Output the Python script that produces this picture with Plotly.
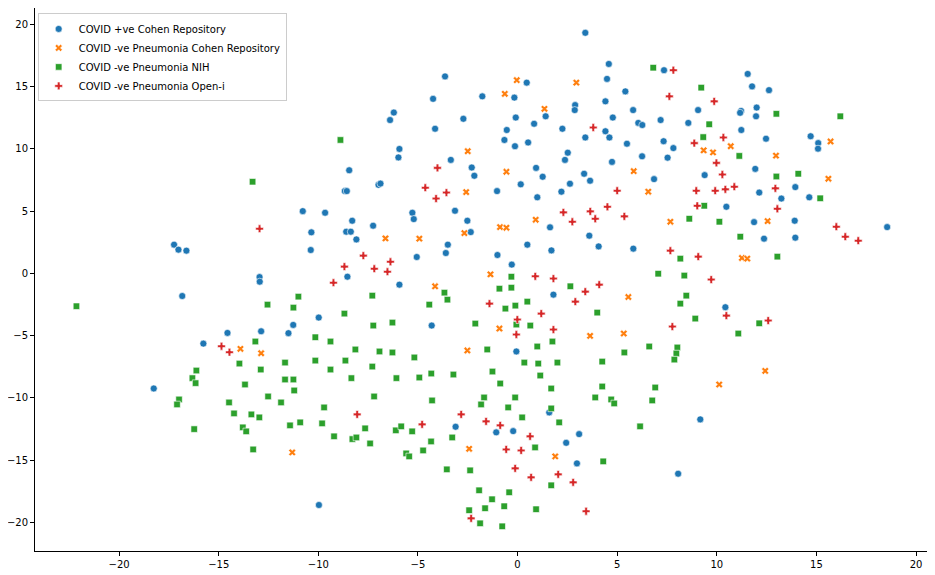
import plotly.graph_objects as go

# t-SNE style embedding
cohen_pos_x = [3.4, 4.58, 4.49, 5.41, -3.64, 0.46, -0.16, -1.77, -4.24, 2.89, 2.87, 4.41, 4.78, 1.41,
               -0.09, 0.83, -6.21, -6.4, -2.72, -4.14, -0.54, 2.25, 4.41, 4.61, 5.49, 3.4, -0.66, -0.13,
               0.53, -5.93, -5.98, 2.52, 2.38, 4.74, -8.45, -3.35, -2.3, -2.17, 0.93, 1.26, 3.34, 3.64,
               -6.98, -6.88, -8.67, -8.57, -1.03, 0.16, 0.99, 2.2, 2.63,
               7.35, 11.55, 11.77, 12.62, 5.8, 9.06, 11.22, 11.17, 12.0, 11.97, 6.06, 6.26, 7.18, 8.57,
               11.23, 12.47, 14.71, 15.09, 15.08, 7.33, 7.82, 6.25, 7.53, 6.85, 9.39, 11.93, 12.13, 13.94,
               13.24, 14.64,
               -17.24, -17.02, -16.62, -16.83, -10.78, -10.35, -10.38, -12.95, -12.94, -9.98, -11.26,
               -11.5, -14.56, -12.87, -15.77,
               -9.66, -8.3, -8.6, -8.37, -8.09, -7.25, -5.28, -5.21, -3.14, -2.52, -2.35, -3.5, -3.6,
               -5.06, -8.54, -5.93, 1.63, 0.49, 1.7, -1.01, -0.29, 3.6, 4.07, 1.8, -4.31, -0.06,
               10.48, 11.87, 13.91, 18.55, 12.37, 13.94, 5.81, 10.43,
               -18.26, -9.97, -3.11, -1.07, -0.22, 1.59, 3.09, 2.44, 2.98, 9.17, 8.06]
cohen_pos_y = [19.3, 16.8, 15.6, 14.6, 15.8, 15.3, 14.1, 14.2, 14.0, 13.5, 13.1, 13.8, 12.5, 12.6,
               12.5, 12.0, 12.9, 12.3, 12.4, 11.6, 11.5, 11.6, 11.4, 10.9, 10.4, 10.9, 10.7, 10.2,
               10.5, 9.98, 9.3, 9.68, 9.1, 8.94, 8.27, 9.1, 8.49, 7.83, 8.46, 7.75, 7.99, 7.43,
               7.1, 7.2, 6.6, 6.6, 6.6, 7.14, 6.1, 6.55, 7.19,
               16.3, 16.0, 15.0, 14.7, 13.1, 13.1, 13.03, 12.88, 13.3, 12.6, 12.07, 11.9, 12.3, 12.07,
               11.5, 10.8, 11.0, 10.45, 10.0, 10.6, 10.05, 9.39, 9.28, 7.56, 7.88, 8.38, 6.48, 6.92,
               6.0, 6.1,
               2.3, 1.9, 1.82, -1.82, 4.99, 3.29, 1.87, -0.3, -0.67, -3.55, -4.14,
               -4.8, -4.78, -4.65, -5.64,
               4.86, 4.22, 3.34, 3.34, 2.72, 3.82, 4.86, 4.35, 5.02, 4.22, 3.31, 2.3, 1.63,
               1.31, -0.27, -0.91, 3.69, 2.3, 1.84, 1.47, 0.7, 3.02, 2.16, -1.71, -4.19, -6.27,
               5.34, 4.11, 4.22, 3.71, 2.78, 2.86, 1.98, -2.72,
               -9.24, -18.59, -12.31, -12.76, -12.66, -11.16, -12.9, -13.6, -15.25, -11.72, -16.08]

cohen_neg_x = [-0.04, 2.95, -0.64, 1.35, -2.5, -0.56, -2.58,
               10.7, 15.71, 9.34, 9.81, 12.97, 5.83, 15.6, 6.56,
               -13.91, -12.87,
               -2.67, -6.63, -4.93, 0.91, -0.88, -0.56, -1.36, -4.14, 5.56, -0.91, 3.64, 5.33, -2.52,
               7.67, 12.55, 11.26, 11.53, 12.43,
               -11.31, -2.43, 1.89, 10.12]
cohen_neg_y = [15.5, 15.3, 14.4, 13.2, 9.8, 8.15, 6.52,
               10.2, 10.58, 9.87, 9.7, 9.44, 8.2, 7.59, 6.55,
               -6.06, -6.41,
               3.23, 2.8, 2.78, 4.3, 3.71, 3.66, -0.08, -1.04, -1.9, -4.43, -5.02, -4.83, -6.19,
               4.14, 4.19, 1.23, 1.18, -7.83,
               -14.37, -14.08, -14.69, -8.92]

nih_x = [-13.3, -8.89,
         6.81, 9.22, 12.99, 16.2, 9.62, 9.32, 11.13, 12.99, 14.09, 15.19,
         -22.14, -12.55, -11.0, -11.25, -13.16, -10.15, -13.96, -11.67, -10.15, -12.89, -16.12,
         -16.32, -11.67, -11.25,
         -0.31, -7.29, -3.67, -3.52, -4.43, -0.91, -0.31, 2.65, -0.11, -0.61, 0.49, -0.06, 0.64,
         4.0, 1.75, 0.99, 5.36, 4.25, 2.0, 1.04, 0.34, 1.14, -1.26, -1.52, -2.12, -6.28, -7.24,
         -8.69, -9.39, -8.14, -6.93, -6.28, -5.18, -8.64, -9.39, -7.29, -4.33, -3.22, -4.93,
         -6.08, -8.34,
         9.37, 8.62, 10.13, 11.18, 8.17, 13.04, 7.06, 8.37, 8.47, 8.17, 8.92, 12.13, 11.08,
         6.61, 8.02, 7.97, 7.87,
         -16.16, -16.99, -17.09, -16.23, -14.48, -14.23, -13.68, -13.79, -13.62, -13.36, -12.96,
         -13.27, -12.52, -11.87, -11.21, -11.42, -10.91,
         -0.87, 1.69, 4.25, 3.9, 4.7, 4.85, -9.71, -9.81, -9.21, -7.2, -7.65, -8.29, -8.09,
         -7.4, -6.11, -5.84, -5.29, -5.59, -5.44, -4.74, -4.29, -4.34, -3.55, -3.28, -2.38,
         -1.68, -1.83, -0.47, -0.12, 0.23, 0.88, 1.69, 2.09, 1.69, 4.3, -1.93, -0.42, -1.28,
         -2.43, -1.63, -0.67, -1.88, -0.77, 0.93,
         6.91, 6.76, 6.15]
nih_y = [7.35, 10.7,
         16.5, 14.9, 12.8, 12.6, 11.96, 10.93, 9.42, 7.77, 7.99, 6.02,
         -2.64, -2.51, -1.87, -2.75, -5.47, -5.13, -7.24, -7.16, -7.0, -7.72, -7.8,
         -8.41, -8.52, -8.52,
         -0.27, -1.79, -1.55, -2.11, -2.51, -1.23, -1.15, -1.04, -2.59, -2.83, -2.27, -4.11, -4.19,
         -3.15, -5.47, -5.87, -6.35, -7.08, -7.16, -7.24, -7.16, -8.2, -7.88, -6.11, -4.03, -3.95,
         -4.19, -3.23, -5.47, -6.11, -6.27, -6.35, -6.75, -7.0, -7.72, -7.48, -8.04, -8.12, -8.36,
         -8.41, -8.41,
         5.42, 4.38, 4.14, 2.94, 1.18, 1.34, -0.03, -0.18, -1.79, -2.43, -3.63, -4.01, -4.83,
         -5.87, -5.95, -6.43, -6.92,
         -8.81, -10.12, -10.52, -12.5, -10.36, -11.24, -8.92, -12.36, -12.68, -11.32, -11.56,
         -14.13, -9.88, -10.36, -9.4, -12.2, -11.96,
         -8.84, -9.24, -9.08, -9.96, -10.12, -10.44, -10.76, -12.04, -13.08, -9.88, -12.44, -13.3,
         -13.17, -13.65, -12.6, -12.28, -12.68, -14.45, -14.69, -14.21, -10.2, -13.49, -15.73,
         -13.17, -15.81, -9.96, -10.52, -10.76, -9.96, -11.56, -13.97, -10.84, -11.96, -17.01,
         -15.09, -17.41, -17.57, -18.13, -19.01, -18.85, -18.69, -20.06, -20.3, -18.93,
         -9.16, -10.2, -12.28]

openi_x = [3.8, -4.02, -4.63, -3.57, -4.09, 5.0,
           7.82, 7.62, 9.87, 10.33, 8.87, 9.98, 10.28, 8.97, 9.92, 10.43, 10.88, 12.94,
           -12.95, -14.86, -14.46,
           -7.74, -8.69, -7.19, -6.38, -6.53, -9.24, 2.3, 2.75, 3.65, 3.9, 4.51, 5.36, -1.41,
           0.89, 1.8, 3.4, 4.1, 2.9, 1.19, -0.01, 1.8, -0.06,
           9.02, 13.04, 16.0, 16.45, 17.1, 7.67, 9.07, 9.72, 10.48, 7.77, 12.58,
           -8.05, -4.79, -2.83, -1.58, -0.87, -0.57, 0.18, 0.63, -0.12, 0.68, 2.04, 2.79, 3.44,
           -2.33]
openi_y = [11.7, 8.46, 6.87, 6.48, 6.0, 6.63,
           16.3, 14.2, 13.8, 10.9, 10.45, 8.86, 7.93, 6.63, 6.63, 6.74, 6.95, 6.82,
           3.58, -5.85, -6.33,
           1.42, 0.54, 0.37, 0.93, 0.13, -0.75, 4.89, 4.14, 4.97, 4.38, 5.34, 4.57, -2.43,
           -0.24, -0.42, -1.47, -0.91, -2.27, -3.23, -3.71, -4.51, -4.91,
           5.42, 5.18, 3.74, 2.94, 2.62, 1.82, 1.34, -0.5, -3.39, -4.27, -3.79,
           -11.32, -12.12, -11.32, -11.88, -12.2, -14.13, -14.21, -13.08, -15.65, -16.37, -16.13,
           -16.77, -19.09, -19.66]

ticks = [-20, -15, -10, -5, 0, 5, 10, 15, 20]
tick_text = [str(t).replace("-", "\u2212") for t in ticks]

# name, x, y, colour, symbol, size
series = [
    ("COVID +ve Cohen Repository", cohen_pos_x, cohen_pos_y, "#1f77b4", "circle", 7),
    ("COVID -ve Pneumonia Cohen Repository", cohen_neg_x, cohen_neg_y, "#ff7f0e", "x", 6.5),
    ("COVID -ve Pneumonia NIH", nih_x, nih_y, "#2ca02c", "square", 6.5),
    ("COVID -ve Pneumonia Open-i", openi_x, openi_y, "#d62728", "cross", 6.5),
]

fig = go.Figure()
for name, xs, ys, color, symbol, size in series:
    fig.add_trace(go.Scatter(
        x=xs, y=ys, mode="markers", name=name,
        marker=dict(color=color, symbol=symbol, size=size,
                    line=dict(color="white", width=0.6)),
    ))

axis_style = dict(
    showgrid=False, zeroline=False, showline=True, mirror=True, automargin=False,
    linecolor="black", linewidth=1, ticks="outside", ticklen=4,
    tickwidth=1, tickcolor="black", tickvals=ticks, ticktext=tick_text,
    tickfont=dict(family="DejaVu Sans", size=10, color="black"),
)

fig.update_xaxes(range=[-24.22, 20.6], **axis_style)
fig.update_yaxes(range=[-22.28, 21.29], **axis_style)

# the page body keeps its default 8px margin, so the figure is sized to fit inside it
fig.update_layout(
    width=927, height=567,
    margin=dict(l=27, r=7, t=0, b=24),
    plot_bgcolor="white", paper_bgcolor="white",
    font=dict(family="DejaVu Sans", size=10, color="black"),
    legend=dict(
        x=0.003, y=0.99, xanchor="left", yanchor="top",
        bgcolor="rgba(255,255,255,0.8)", bordercolor="#cccccc", borderwidth=1,
        font=dict(size=10), tracegroupgap=0,
    ),
)

fig.write_html("out.html")
